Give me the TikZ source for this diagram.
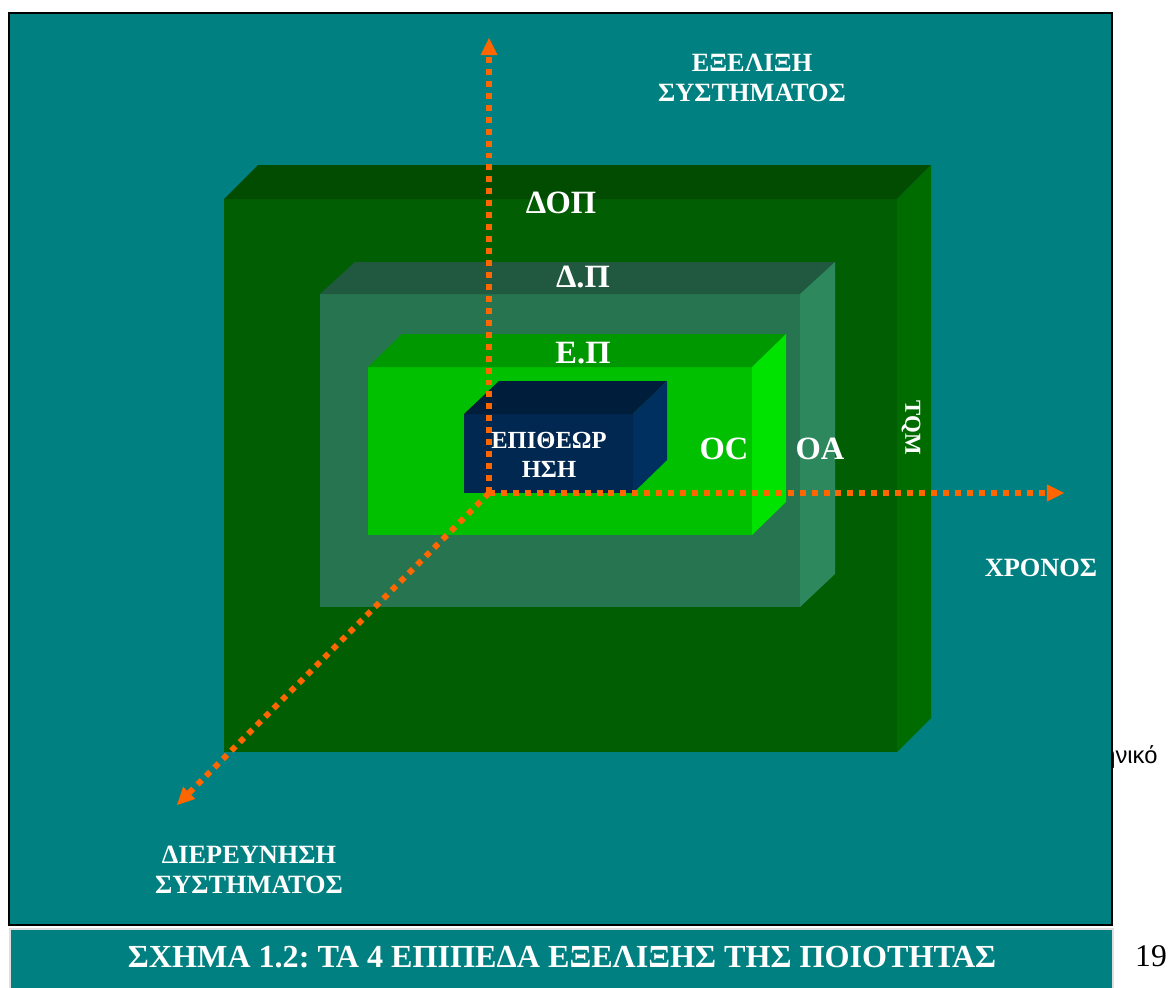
\documentclass[tikz,border=0pt]{standalone}
\usepackage{fontspec}
\setmainfont{Liberation Serif}
\newfontfamily\sansgr{Liberation Sans}
\usetikzlibrary{arrows.meta}
\frenchspacing

\definecolor{panelteal}{RGB}{0,128,128}
\definecolor{axisorange}{RGB}{255,102,0}
\definecolor{dopfront}{RGB}{2,94,2}
\definecolor{doptop}{RGB}{2,76,2}
\definecolor{dopside}{RGB}{0,108,0}
\definecolor{dpfront}{RGB}{39,117,80}
\definecolor{dptop}{RGB}{32,88,64}
\definecolor{dpside}{RGB}{46,136,94}
\definecolor{epfront}{RGB}{0,192,0}
\definecolor{eptop}{RGB}{0,152,0}
\definecolor{epside}{RGB}{0,226,0}
\definecolor{insfront}{RGB}{0,40,80}
\definecolor{instop}{RGB}{0,30,60}
\definecolor{insside}{RGB}{0,48,96}

\begin{document}
\begin{tikzpicture}[x=0.02cm, y=-0.02cm,
    axis/.style={draw=axisorange, line width=3.4pt, dash pattern=on 3.4pt off 3.4pt,
                 -{Triangle[length=9.8pt, width=9.8pt, line width=0pt]}},
    lbl/.style={text=white, font=\bfseries, inner sep=0pt, align=center}]
    \useasboundingbox (0,0) rectangle (1169,987);

    % text of the page behind the panel
    \node[anchor=base west, inner sep=0pt, font=\sansgr\fontsize{13.5}{15}\selectfont] (pagetext) at (1102,763) {ηνικό};
    \node[anchor=base, inner sep=0pt, font=\fontsize{18}{20}\selectfont] (pagenum) at (1151,966) {19};

    % panel and caption
    \fill[panelteal, draw=black, line width=1.1pt] (9,13) rectangle (1112,925);
    \fill[panelteal, draw=gray!25, line width=0.8pt] (10,929) rectangle (1113,992);
    \node[lbl, font=\bfseries\fontsize{18.3}{20}\selectfont] (caption) at (562,957)
        {ΣΧΗΜΑ 1.2: ΤΑ 4 ΕΠΙΠΕΔΑ ΕΞΕΛΙΞΗΣ ΤΗΣ ΠΟΙΟΤΗΤΑΣ};

    % outer level
    \fill[dopfront] (224,199) rectangle (897,752);
    \fill[doptop] (224,199) -- (258,165) -- (931,165) -- (897,199) -- cycle;
    \fill[dopside] (897,199) -- (931,165) -- (931,718) -- (897,752) -- cycle;

    % second level
    \fill[dpfront] (320,294) rectangle (800,607);
    \fill[dptop] (320,294) -- (355,262) -- (835,262) -- (800,294) -- cycle;
    \fill[dpside] (800,294) -- (835,262) -- (835,574) -- (800,607) -- cycle;

    % third level
    \fill[epfront] (368,367) rectangle (752,535);
    \fill[eptop] (368,367) -- (402,334) -- (786,334) -- (752,367) -- cycle;
    \fill[epside] (752,367) -- (786,334) -- (786,502) -- (752,535) -- cycle;

    % inspection
    \fill[insfront] (464,414) rectangle (633,493);
    \fill[instop] (464,414) -- (499,381) -- (667,381) -- (633,414) -- cycle;
    \fill[insside] (633,414) -- (667,381) -- (667,460) -- (633,493) -- cycle;

    % axes
    \coordinate (origin) at (489,493);
    \coordinate (evolend) at (489,38);
    \coordinate (timeend) at (1064,493);
    \coordinate (searchend) at (177,805);
    \draw[axis] (origin) -- (evolend);
    \draw[axis] (origin) -- (timeend);
    \draw[axis] (origin) -- (searchend);

    % labels
    \node[lbl, font=\bfseries\fontsize{15}{17}\selectfont] (evolution) at (752,78) {ΕΞΕΛΙΞΗ\\ΣΥΣΤΗΜΑΤΟΣ};
    \node[lbl, font=\bfseries\fontsize{15}{17}\selectfont] (search) at (249,870) {ΔΙΕΡΕΥΝΗΣΗ\\ΣΥΣΤΗΜΑΤΟΣ};
    \node[lbl, font=\bfseries\fontsize{15}{17}\selectfont] (time) at (1041,568) {ΧΡΟΝΟΣ};
    \node[lbl, font=\bfseries\fontsize{18.5}{20}\selectfont] (dop) at (561,203) {ΔΟΠ};
    \node[lbl, font=\bfseries\fontsize{18.5}{20}\selectfont] (dp) at (583,277) {Δ.Π};
    \node[lbl, font=\bfseries\fontsize{18.5}{20}\selectfont] (ep) at (583,353) {Ε.Π};
    \node[lbl, font=\bfseries\fontsize{18.5}{20}\selectfont] (qc) at (724,449) {OC};
    \node[lbl, font=\bfseries\fontsize{18.5}{20}\selectfont] (qa) at (820,449) {OA};
    \node[lbl, font=\bfseries\fontsize{14}{16.5}\selectfont] (inspection) at (549,455) {ΕΠΙΘΕΩΡ\\ΗΣΗ};
    \node[lbl, font=\bfseries\fontsize{13}{15}\selectfont, rotate=-90] (tqm) at (911,428) {TQM};
\end{tikzpicture}
\end{document}
